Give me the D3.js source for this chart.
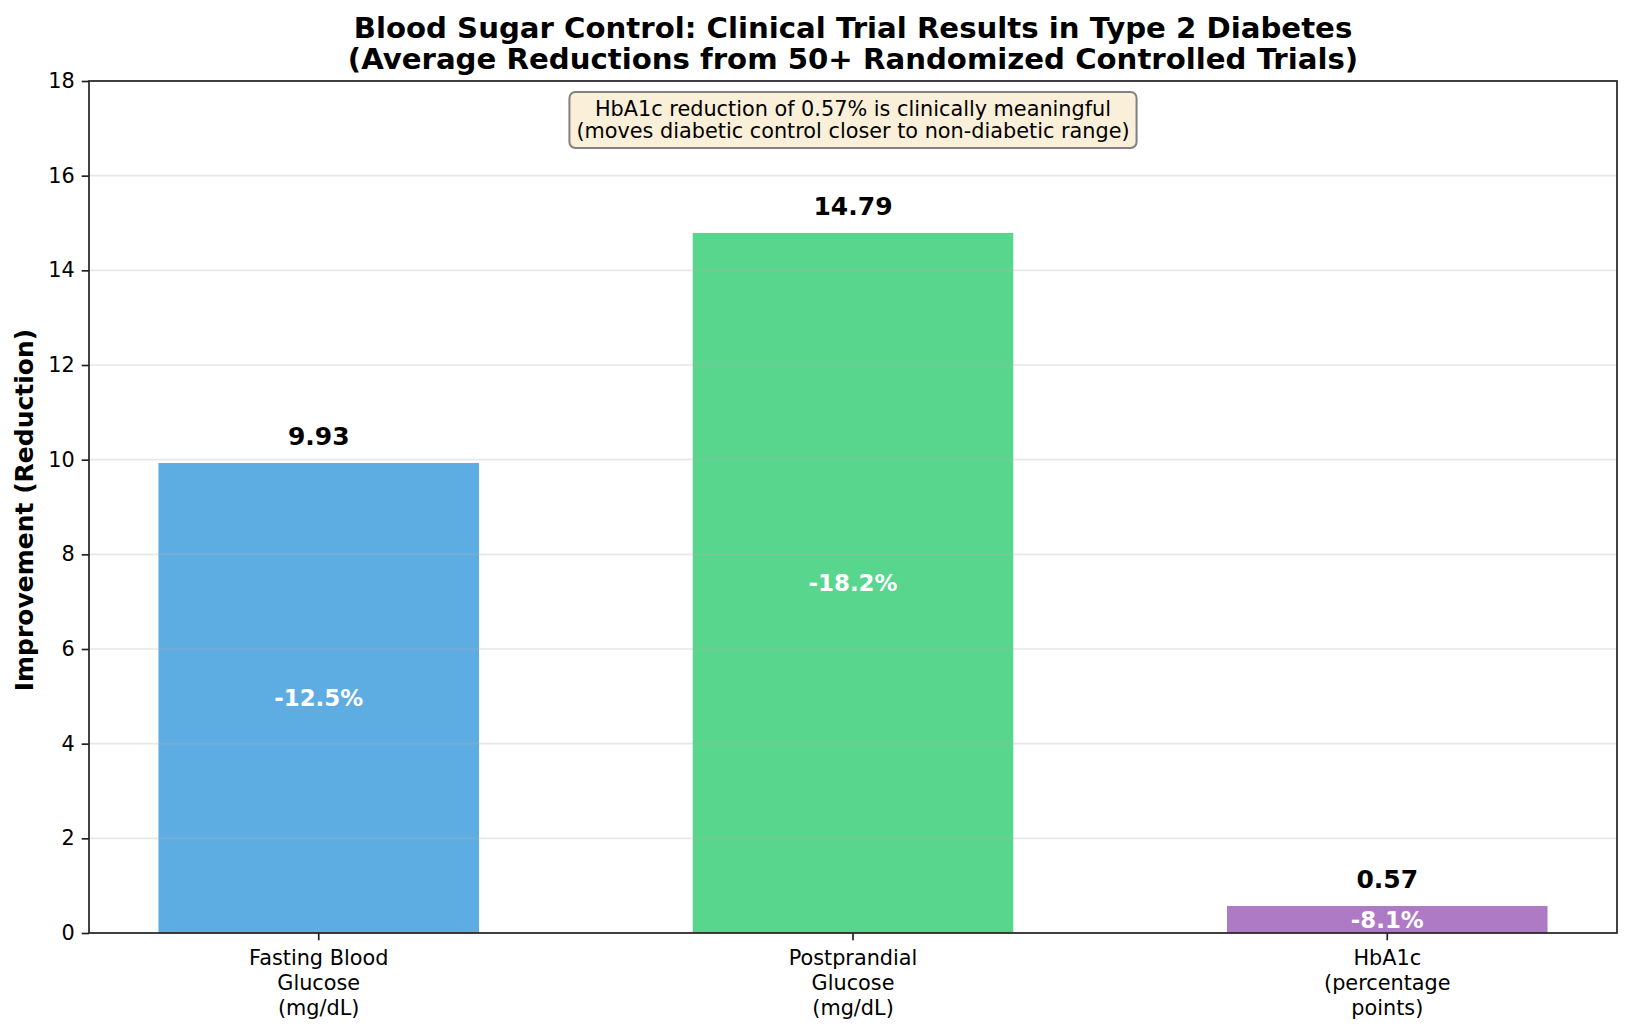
<!DOCTYPE html>
<html>
<head>
<meta charset="utf-8">
<script src="https://cdn.jsdelivr.net/npm/d3@7"></script>
<style>
    body { margin: 0; background: #fff; }
    svg { display: block; }
    svg text { font-family: "DejaVu Sans", "Bitstream Vera Sans", Verdana, sans-serif; }
    .tick-label { font-size: 20.8px; fill: #000; }
    .value-label { font-size: 25px; font-weight: bold; fill: #000; }
    .pct-label { font-size: 22.9px; font-weight: bold; fill: #fff; }
</style>
</head>
<body>
<svg id="chart"></svg>
<script>
// Data
const categories = ['Fasting Blood\nGlucose\n(mg/dL)', 'Postprandial\nGlucose\n(mg/dL)', 'HbA1c\n(percentage\npoints)'];
const reductions = [9.93, 14.79, 0.57];
const percentChanges = [-12.5, -18.2, -8.1];
const barColors = ['#5DADE2', '#58D68D', '#AF7AC5'];
const yTickValues = [0, 2, 4, 6, 8, 10, 12, 14, 16, 18];
const titleLines = ['Blood Sugar Control: Clinical Trial Results in Type 2 Diabetes',
    '(Average Reductions from 50+ Randomized Controlled Trials)'];
const noteLines = ['HbA1c reduction of 0.57% is clinically meaningful',
    '(moves diabetic control closer to non-diabetic range)'];

const FONT = '"DejaVu Sans", "Bitstream Vera Sans", Verdana, sans-serif';

class ReductionChart {

    constructor(_config, _data) {
        this.config = {
            parentElement: _config.parentElement,
            containerWidth: 1632,
            containerHeight: 1030,
            margin: {top: 81, right: 15, bottom: 97, left: 89}
        }
        this.data = _data;
        this.initVis();
    }

    initVis() {
        let vis = this;

        vis.svg = d3.select(vis.config.parentElement)
            .attr('width', vis.config.containerWidth)
            .attr('height', vis.config.containerHeight)
            .attr('font-family', FONT);

        vis.width = vis.config.containerWidth - vis.config.margin.left - vis.config.margin.right;
        vis.height = vis.config.containerHeight - vis.config.margin.top - vis.config.margin.bottom;
        vis.centerX = vis.config.margin.left + vis.width / 2;

        vis.chart = vis.svg.append('g')
            .attr('transform', `translate(${vis.config.margin.left},${vis.config.margin.top})`);

        // matplotlib-like bars: width 0.6, 5% margins on the x range
        vis.xScale = d3.scaleBand()
            .domain(vis.data.map(d => d.category))
            .range([0, vis.width])
            .paddingInner(0.4)
            .paddingOuter(0.13);

        vis.yScale = d3.scaleLinear()
            .domain([0, 18])
            .range([vis.height, 0]);

        vis.yAxis = d3.axisLeft(vis.yScale)
            .tickValues(yTickValues)
            .tickSize(7.3)
            .tickPadding(7)
            .tickSizeOuter(0);

        vis.xAxis = d3.axisBottom(vis.xScale)
            .tickSize(7.3)
            .tickSizeOuter(0)
            .tickFormat('');

        vis.barsG = vis.chart.append('g');
        vis.gridG = vis.chart.append('g');
        vis.labelsG = vis.chart.append('g');
        vis.xAxisG = vis.chart.append('g')
            .attr('transform', `translate(0,${vis.height})`);
        vis.yAxisG = vis.chart.append('g');

        // Title
        vis.svg.append('text')
            .attr('text-anchor', 'middle')
            .style('font-size', '29.2px')
            .style('font-weight', 'bold')
            .selectAll('tspan')
            .data(titleLines)
            .join('tspan')
            .attr('x', vis.centerX)
            .attr('y', (d, i) => 38 + i * 31)
            .text(d => d);

        // Y axis title
        vis.svg.append('text')
            .attr('transform', `translate(33,${vis.config.margin.top + vis.height / 2 + 3}) rotate(-90)`)
            .attr('text-anchor', 'middle')
            .style('font-size', '25px')
            .style('font-weight', 'bold')
            .text('Improvement (Reduction)');
    }

    renderVis() {
        let vis = this;

        vis.barsG.selectAll('.bar')
            .data(vis.data)
            .join('rect')
            .attr('class', 'bar')
            .attr('x', d => vis.xScale(d.category))
            .attr('width', vis.xScale.bandwidth())
            .attr('y', d => vis.yScale(d.value))
            .attr('height', d => vis.height - vis.yScale(d.value))
            .attr('fill', d => d.color);

        // light grid drawn over the bars
        vis.gridG.selectAll('line')
            .data(yTickValues)
            .join('line')
            .attr('x1', 0)
            .attr('x2', vis.width)
            .attr('y1', d => vis.yScale(d))
            .attr('y2', d => vis.yScale(d))
            .attr('stroke', '#b0b0b0')
            .attr('stroke-opacity', 0.3)
            .attr('stroke-width', 1.6);

        const cx = d => vis.xScale(d.category) + vis.xScale.bandwidth() / 2;

        vis.labelsG.selectAll('.value-label')
            .data(vis.data)
            .join('text')
            .attr('class', 'value-label')
            .attr('x', cx)
            .attr('y', d => vis.yScale(d.value + 0.3) - 3.5)
            .attr('text-anchor', 'middle')
            .text(d => d.value.toFixed(2));

        vis.labelsG.selectAll('.pct-label')
            .data(vis.data)
            .join('text')
            .attr('class', 'pct-label')
            .attr('x', cx)
            .attr('y', d => vis.yScale(d.value / 2))
            .attr('dy', '0.36em')
            .attr('text-anchor', 'middle')
            .text(d => `${d.pct.toFixed(1)}%`);

        vis.yAxisG.call(vis.yAxis);
        vis.yAxisG.attr('font-family', null).attr('font-size', null);
        vis.yAxisG.selectAll('.tick text').attr('class', 'tick-label');
        vis.yAxisG.select('.domain').remove();

        vis.xAxisG.call(vis.xAxis);
        vis.xAxisG.attr('font-family', null).attr('font-size', null);
        vis.xAxisG.select('.domain').remove();
        vis.xAxisG.selectAll('.tick').each(function (d) {
            const lines = d.split('\n');
            d3.select(this).select('text').remove();
            d3.select(this).append('text')
                .attr('class', 'tick-label')
                .attr('text-anchor', 'middle')
                .selectAll('tspan')
                .data(lines)
                .join('tspan')
                .attr('x', 0)
                .attr('y', (l, i) => 32 + i * 25)
                .text(l => l);
        });
        vis.chart.selectAll('.tick line').attr('stroke', '#222').attr('stroke-width', 1.7);

        // frame
        vis.chart.append('rect')
            .attr('width', vis.width)
            .attr('height', vis.height)
            .attr('fill', 'none')
            .attr('stroke', '#222')
            .attr('stroke-width', 1.7);

        // annotation box, centred on the axes
        const note = vis.svg.append('g');
        note.append('text')
            .attr('text-anchor', 'middle')
            .style('font-size', '20.8px')
            .selectAll('tspan')
            .data(noteLines)
            .join('tspan')
            .attr('x', vis.centerX)
            .attr('y', (d, i) => 115.5 + i * 22.5)
            .text(d => d);
        const bb = note.node().getBBox();
        note.insert('rect', 'text')
            .attr('x', bb.x - 7)
            .attr('y', 92)
            .attr('width', bb.width + 14)
            .attr('height', 56)
            .attr('rx', 6)
            .attr('fill', '#faefd9')
            .attr('stroke', '#808080')
            .attr('stroke-width', 2);

        vis.svg.selectAll('text').style('font-family', FONT);
    }
}

const data = categories.map((c, i) => ({
    category: c,
    value: reductions[i],
    pct: percentChanges[i],
    color: barColors[i]
}));

const chart = new ReductionChart({parentElement: '#chart'}, data);
chart.renderVis();
</script>
</body>
</html>
